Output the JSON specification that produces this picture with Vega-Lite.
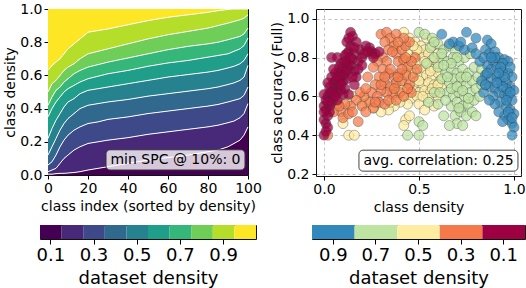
{
"$schema":"https://vega.github.io/schema/vega-lite/v6.json",
"padding":{"left":3,"top":1,"right":0,"bottom":0},
"background":"white",
"config":{"font":"DejaVu Sans","view":{"stroke":"#111","strokeWidth":1},
"axis":{"labelFont":"DejaVu Sans","titleFont":"DejaVu Sans","labelFontSize":14,"titleFontSize":14,"titleFontWeight":"normal","labelColor":"#000","titleColor":"#000","tickColor":"#000","domain":false,"tickSize":4,"labelPadding":2,"titlePadding":4,"grid":false,"labelOverlap":false,"labelFlush":false},
"text":{"font":"DejaVu Sans"}},
"resolve":{"scale":{"color":"independent"}},
"spacing":8,
"datasets":{
"bands":[
{"i":0,"d":0.1,"lo":0,"hi":0.005},{"i":0,"d":0.2,"lo":0.005,"hi":0.02},{"i":0,"d":0.3,"lo":0.02,"hi":0.06},{"i":0,"d":0.4,"lo":0.06,"hi":0.12},{"i":0,"d":0.5,"lo":0.12,"hi":0.22},{"i":0,"d":0.6,"lo":0.22,"hi":0.35},{"i":0,"d":0.7,"lo":0.35,"hi":0.42},{"i":0,"d":0.8,"lo":0.42,"hi":0.5},{"i":0,"d":0.9,"lo":0.5,"hi":0.63},{"i":0,"d":1,"lo":0.63,"hi":1},
{"i":2,"d":0.1,"lo":0,"hi":0.005},{"i":2,"d":0.2,"lo":0.005,"hi":0.03},{"i":2,"d":0.3,"lo":0.03,"hi":0.08},{"i":2,"d":0.4,"lo":0.08,"hi":0.17},{"i":2,"d":0.5,"lo":0.17,"hi":0.28},{"i":2,"d":0.6,"lo":0.28,"hi":0.4},{"i":2,"d":0.7,"lo":0.4,"hi":0.47},{"i":2,"d":0.8,"lo":0.47,"hi":0.55},{"i":2,"d":0.9,"lo":0.55,"hi":0.66},{"i":2,"d":1,"lo":0.66,"hi":1},
{"i":4,"d":0.1,"lo":0,"hi":0.008},{"i":4,"d":0.2,"lo":0.008,"hi":0.04},{"i":4,"d":0.3,"lo":0.04,"hi":0.12},{"i":4,"d":0.4,"lo":0.12,"hi":0.22},{"i":4,"d":0.5,"lo":0.22,"hi":0.33},{"i":4,"d":0.6,"lo":0.33,"hi":0.44},{"i":4,"d":0.7,"lo":0.44,"hi":0.51},{"i":4,"d":0.8,"lo":0.51,"hi":0.57},{"i":4,"d":0.9,"lo":0.57,"hi":0.68},{"i":4,"d":1,"lo":0.68,"hi":1},
{"i":6,"d":0.1,"lo":0,"hi":0.01},{"i":6,"d":0.2,"lo":0.01,"hi":0.07},{"i":6,"d":0.3,"lo":0.07,"hi":0.17},{"i":6,"d":0.4,"lo":0.17,"hi":0.27},{"i":6,"d":0.5,"lo":0.27,"hi":0.37},{"i":6,"d":0.6,"lo":0.37,"hi":0.47},{"i":6,"d":0.7,"lo":0.47,"hi":0.53},{"i":6,"d":0.8,"lo":0.53,"hi":0.6},{"i":6,"d":0.9,"lo":0.6,"hi":0.7},{"i":6,"d":1,"lo":0.7,"hi":1},
{"i":8,"d":0.1,"lo":0,"hi":0.01},{"i":8,"d":0.2,"lo":0.01,"hi":0.1},{"i":8,"d":0.3,"lo":0.1,"hi":0.21},{"i":8,"d":0.4,"lo":0.21,"hi":0.31},{"i":8,"d":0.5,"lo":0.31,"hi":0.41},{"i":8,"d":0.6,"lo":0.41,"hi":0.5},{"i":8,"d":0.7,"lo":0.5,"hi":0.56},{"i":8,"d":0.8,"lo":0.56,"hi":0.63},{"i":8,"d":0.9,"lo":0.63,"hi":0.73},{"i":8,"d":1,"lo":0.73,"hi":1},
{"i":10,"d":0.1,"lo":0,"hi":0.012},{"i":10,"d":0.2,"lo":0.012,"hi":0.12},{"i":10,"d":0.3,"lo":0.12,"hi":0.24},{"i":10,"d":0.4,"lo":0.24,"hi":0.34},{"i":10,"d":0.5,"lo":0.34,"hi":0.44},{"i":10,"d":0.6,"lo":0.44,"hi":0.52},{"i":10,"d":0.7,"lo":0.52,"hi":0.58},{"i":10,"d":0.8,"lo":0.58,"hi":0.65},{"i":10,"d":0.9,"lo":0.65,"hi":0.76},{"i":10,"d":1,"lo":0.76,"hi":1},
{"i":13,"d":0.1,"lo":0,"hi":0.015},{"i":13,"d":0.2,"lo":0.015,"hi":0.15},{"i":13,"d":0.3,"lo":0.15,"hi":0.27},{"i":13,"d":0.4,"lo":0.27,"hi":0.37},{"i":13,"d":0.5,"lo":0.37,"hi":0.46},{"i":13,"d":0.6,"lo":0.46,"hi":0.54},{"i":13,"d":0.7,"lo":0.54,"hi":0.61},{"i":13,"d":0.8,"lo":0.61,"hi":0.67},{"i":13,"d":0.9,"lo":0.67,"hi":0.79},{"i":13,"d":1,"lo":0.79,"hi":1},
{"i":16,"d":0.1,"lo":0,"hi":0.02},{"i":16,"d":0.2,"lo":0.02,"hi":0.17},{"i":16,"d":0.3,"lo":0.17,"hi":0.29},{"i":16,"d":0.4,"lo":0.29,"hi":0.4},{"i":16,"d":0.5,"lo":0.4,"hi":0.49},{"i":16,"d":0.6,"lo":0.49,"hi":0.56},{"i":16,"d":0.7,"lo":0.56,"hi":0.63},{"i":16,"d":0.8,"lo":0.63,"hi":0.7},{"i":16,"d":0.9,"lo":0.7,"hi":0.82},{"i":16,"d":1,"lo":0.82,"hi":1},
{"i":20,"d":0.1,"lo":0,"hi":0.03},{"i":20,"d":0.2,"lo":0.03,"hi":0.19},{"i":20,"d":0.3,"lo":0.19,"hi":0.31},{"i":20,"d":0.4,"lo":0.31,"hi":0.42},{"i":20,"d":0.5,"lo":0.42,"hi":0.51},{"i":20,"d":0.6,"lo":0.51,"hi":0.58},{"i":20,"d":0.7,"lo":0.58,"hi":0.65},{"i":20,"d":0.8,"lo":0.65,"hi":0.73},{"i":20,"d":0.9,"lo":0.73,"hi":0.86},{"i":20,"d":1,"lo":0.86,"hi":1},
{"i":25,"d":0.1,"lo":0,"hi":0.04},{"i":25,"d":0.2,"lo":0.04,"hi":0.2},{"i":25,"d":0.3,"lo":0.2,"hi":0.32},{"i":25,"d":0.4,"lo":0.32,"hi":0.43},{"i":25,"d":0.5,"lo":0.43,"hi":0.52},{"i":25,"d":0.6,"lo":0.52,"hi":0.595},{"i":25,"d":0.7,"lo":0.595,"hi":0.665},{"i":25,"d":0.8,"lo":0.665,"hi":0.745},{"i":25,"d":0.9,"lo":0.745,"hi":0.87},{"i":25,"d":1,"lo":0.87,"hi":1},
{"i":30,"d":0.1,"lo":0,"hi":0.05},{"i":30,"d":0.2,"lo":0.05,"hi":0.21},{"i":30,"d":0.3,"lo":0.21,"hi":0.335},{"i":30,"d":0.4,"lo":0.335,"hi":0.44},{"i":30,"d":0.5,"lo":0.44,"hi":0.53},{"i":30,"d":0.6,"lo":0.53,"hi":0.61},{"i":30,"d":0.7,"lo":0.61,"hi":0.68},{"i":30,"d":0.8,"lo":0.68,"hi":0.76},{"i":30,"d":0.9,"lo":0.76,"hi":0.88},{"i":30,"d":1,"lo":0.88,"hi":1},
{"i":40,"d":0.1,"lo":0,"hi":0.07},{"i":40,"d":0.2,"lo":0.07,"hi":0.225},{"i":40,"d":0.3,"lo":0.225,"hi":0.35},{"i":40,"d":0.4,"lo":0.35,"hi":0.455},{"i":40,"d":0.5,"lo":0.455,"hi":0.55},{"i":40,"d":0.6,"lo":0.55,"hi":0.63},{"i":40,"d":0.7,"lo":0.63,"hi":0.705},{"i":40,"d":0.8,"lo":0.705,"hi":0.79},{"i":40,"d":0.9,"lo":0.79,"hi":0.905},{"i":40,"d":1,"lo":0.905,"hi":1},
{"i":50,"d":0.1,"lo":0,"hi":0.09},{"i":50,"d":0.2,"lo":0.09,"hi":0.245},{"i":50,"d":0.3,"lo":0.245,"hi":0.37},{"i":50,"d":0.4,"lo":0.37,"hi":0.475},{"i":50,"d":0.5,"lo":0.475,"hi":0.57},{"i":50,"d":0.6,"lo":0.57,"hi":0.655},{"i":50,"d":0.7,"lo":0.655,"hi":0.73},{"i":50,"d":0.8,"lo":0.73,"hi":0.82},{"i":50,"d":0.9,"lo":0.82,"hi":0.93},{"i":50,"d":1,"lo":0.93,"hi":1},
{"i":60,"d":0.1,"lo":0,"hi":0.105},{"i":60,"d":0.2,"lo":0.105,"hi":0.26},{"i":60,"d":0.3,"lo":0.26,"hi":0.385},{"i":60,"d":0.4,"lo":0.385,"hi":0.49},{"i":60,"d":0.5,"lo":0.49,"hi":0.59},{"i":60,"d":0.6,"lo":0.59,"hi":0.675},{"i":60,"d":0.7,"lo":0.675,"hi":0.755},{"i":60,"d":0.8,"lo":0.755,"hi":0.845},{"i":60,"d":0.9,"lo":0.845,"hi":0.95},{"i":60,"d":1,"lo":0.95,"hi":1},
{"i":70,"d":0.1,"lo":0,"hi":0.12},{"i":70,"d":0.2,"lo":0.12,"hi":0.275},{"i":70,"d":0.3,"lo":0.275,"hi":0.4},{"i":70,"d":0.4,"lo":0.4,"hi":0.505},{"i":70,"d":0.5,"lo":0.505,"hi":0.605},{"i":70,"d":0.6,"lo":0.605,"hi":0.69},{"i":70,"d":0.7,"lo":0.69,"hi":0.775},{"i":70,"d":0.8,"lo":0.775,"hi":0.865},{"i":70,"d":0.9,"lo":0.865,"hi":0.965},{"i":70,"d":1,"lo":0.965,"hi":1},
{"i":80,"d":0.1,"lo":0,"hi":0.14},{"i":80,"d":0.2,"lo":0.14,"hi":0.29},{"i":80,"d":0.3,"lo":0.29,"hi":0.415},{"i":80,"d":0.4,"lo":0.415,"hi":0.52},{"i":80,"d":0.5,"lo":0.52,"hi":0.62},{"i":80,"d":0.6,"lo":0.62,"hi":0.71},{"i":80,"d":0.7,"lo":0.71,"hi":0.79},{"i":80,"d":0.8,"lo":0.79,"hi":0.885},{"i":80,"d":0.9,"lo":0.885,"hi":0.98},{"i":80,"d":1,"lo":0.98,"hi":1},
{"i":85,"d":0.1,"lo":0,"hi":0.15},{"i":85,"d":0.2,"lo":0.15,"hi":0.3},{"i":85,"d":0.3,"lo":0.3,"hi":0.425},{"i":85,"d":0.4,"lo":0.425,"hi":0.53},{"i":85,"d":0.5,"lo":0.53,"hi":0.63},{"i":85,"d":0.6,"lo":0.63,"hi":0.72},{"i":85,"d":0.7,"lo":0.72,"hi":0.8},{"i":85,"d":0.8,"lo":0.8,"hi":0.9},{"i":85,"d":0.9,"lo":0.9,"hi":0.99},{"i":85,"d":1,"lo":0.99,"hi":1},
{"i":90,"d":0.1,"lo":0,"hi":0.17},{"i":90,"d":0.2,"lo":0.17,"hi":0.315},{"i":90,"d":0.3,"lo":0.315,"hi":0.44},{"i":90,"d":0.4,"lo":0.44,"hi":0.545},{"i":90,"d":0.5,"lo":0.545,"hi":0.645},{"i":90,"d":0.6,"lo":0.645,"hi":0.73},{"i":90,"d":0.7,"lo":0.73,"hi":0.815},{"i":90,"d":0.8,"lo":0.815,"hi":0.915},{"i":90,"d":0.9,"lo":0.915,"hi":0.997},{"i":90,"d":1,"lo":0.997,"hi":1},
{"i":93,"d":0.1,"lo":0,"hi":0.19},{"i":93,"d":0.2,"lo":0.19,"hi":0.325},{"i":93,"d":0.3,"lo":0.325,"hi":0.45},{"i":93,"d":0.4,"lo":0.45,"hi":0.555},{"i":93,"d":0.5,"lo":0.555,"hi":0.655},{"i":93,"d":0.6,"lo":0.655,"hi":0.745},{"i":93,"d":0.7,"lo":0.745,"hi":0.825},{"i":93,"d":0.8,"lo":0.825,"hi":0.925},{"i":93,"d":0.9,"lo":0.925,"hi":1},{"i":93,"d":1,"lo":1,"hi":1},
{"i":96,"d":0.1,"lo":0,"hi":0.21},{"i":96,"d":0.2,"lo":0.21,"hi":0.345},{"i":96,"d":0.3,"lo":0.345,"hi":0.46},{"i":96,"d":0.4,"lo":0.46,"hi":0.57},{"i":96,"d":0.5,"lo":0.57,"hi":0.67},{"i":96,"d":0.6,"lo":0.67,"hi":0.76},{"i":96,"d":0.7,"lo":0.76,"hi":0.835},{"i":96,"d":0.8,"lo":0.835,"hi":0.935},{"i":96,"d":0.9,"lo":0.935,"hi":1},{"i":96,"d":1,"lo":1,"hi":1},
{"i":98,"d":0.1,"lo":0,"hi":0.24},{"i":98,"d":0.2,"lo":0.24,"hi":0.37},{"i":98,"d":0.3,"lo":0.37,"hi":0.48},{"i":98,"d":0.4,"lo":0.48,"hi":0.59},{"i":98,"d":0.5,"lo":0.59,"hi":0.69},{"i":98,"d":0.6,"lo":0.69,"hi":0.78},{"i":98,"d":0.7,"lo":0.78,"hi":0.85},{"i":98,"d":0.8,"lo":0.85,"hi":0.945},{"i":98,"d":0.9,"lo":0.945,"hi":1},{"i":98,"d":1,"lo":1,"hi":1},
{"i":100,"d":0.1,"lo":0,"hi":0.29},{"i":100,"d":0.2,"lo":0.29,"hi":0.43},{"i":100,"d":0.3,"lo":0.43,"hi":0.53},{"i":100,"d":0.4,"lo":0.53,"hi":0.66},{"i":100,"d":0.5,"lo":0.66,"hi":0.73},{"i":100,"d":0.6,"lo":0.73,"hi":0.825},{"i":100,"d":0.7,"lo":0.825,"hi":0.885},{"i":100,"d":0.8,"lo":0.885,"hi":0.965},{"i":100,"d":0.9,"lo":0.965,"hi":1},{"i":100,"d":1,"lo":1,"hi":1}
],
"pts":[
{"cd":0.42,"acc":0.93,"ds":0.5},{"cd":0.45,"acc":0.9,"ds":0.5},{"cd":0.48,"acc":0.88,"ds":0.5},{"cd":0.51,"acc":0.86,"ds":0.5},{"cd":0.5,"acc":0.83,"ds":0.5},{"cd":0.53,"acc":0.84,"ds":0.5},{"cd":0.47,"acc":0.8,"ds":0.5},{"cd":0.44,"acc":0.82,"ds":0.5},{"cd":0.52,"acc":0.8,"ds":0.5},{"cd":0.55,"acc":0.82,"ds":0.5},{"cd":0.57,"acc":0.79,"ds":0.5},{"cd":0.49,"acc":0.77,"ds":0.5},{"cd":0.46,"acc":0.75,"ds":0.5},{"cd":0.52,"acc":0.74,"ds":0.5},{"cd":0.55,"acc":0.76,"ds":0.5},{"cd":0.58,"acc":0.74,"ds":0.5},{"cd":0.6,"acc":0.77,"ds":0.5},{"cd":0.48,"acc":0.72,"ds":0.5},{"cd":0.51,"acc":0.7,"ds":0.5},{"cd":0.54,"acc":0.71,"ds":0.5},{"cd":0.57,"acc":0.7,"ds":0.5},{"cd":0.6,"acc":0.72,"ds":0.5},{"cd":0.45,"acc":0.69,"ds":0.5},{"cd":0.48,"acc":0.67,"ds":0.5},{"cd":0.52,"acc":0.66,"ds":0.5},{"cd":0.55,"acc":0.67,"ds":0.5},{"cd":0.58,"acc":0.66,"ds":0.5},{"cd":0.61,"acc":0.68,"ds":0.5},{"cd":0.44,"acc":0.64,"ds":0.5},{"cd":0.47,"acc":0.63,"ds":0.5},{"cd":0.5,"acc":0.62,"ds":0.5},{"cd":0.53,"acc":0.63,"ds":0.5},{"cd":0.56,"acc":0.62,"ds":0.5},{"cd":0.59,"acc":0.63,"ds":0.5},{"cd":0.42,"acc":0.6,"ds":0.5},{"cd":0.46,"acc":0.59,"ds":0.5},{"cd":0.49,"acc":0.6,"ds":0.5},{"cd":0.55,"acc":0.59,"ds":0.5},{"cd":0.5,"acc":0.56,"ds":0.5},{"cd":0.53,"acc":0.53,"ds":0.5},{"cd":0.44,"acc":0.56,"ds":0.5},{"cd":0.4,"acc":0.57,"ds":0.5},{"cd":0.37,"acc":0.55,"ds":0.5},{"cd":0.34,"acc":0.53,"ds":0.5},{"cd":0.3,"acc":0.52,"ds":0.5},{"cd":0.26,"acc":0.54,"ds":0.5},{"cd":0.22,"acc":0.58,"ds":0.5},{"cd":0.2,"acc":0.56,"ds":0.5},{"cd":0.15,"acc":0.6,"ds":0.5},{"cd":0.12,"acc":0.57,"ds":0.5},{"cd":0.1,"acc":0.46,"ds":0.5},{"cd":0.13,"acc":0.4,"ds":0.5},{"cd":0.16,"acc":0.4,"ds":0.5},{"cd":0.43,"acc":0.48,"ds":0.5},{"cd":0.42,"acc":0.45,"ds":0.5},{"cd":0.45,"acc":0.5,"ds":0.5},{"cd":0.6,"acc":0.6,"ds":0.5},{"cd":0.62,"acc":0.65,"ds":0.5},{"cd":0.58,"acc":0.55,"ds":0.5},{"cd":0.4,"acc":0.66,"ds":0.5},{"cd":0.38,"acc":0.62,"ds":0.5},{"cd":0.36,"acc":0.88,"ds":0.5},{"cd":0.39,"acc":0.86,"ds":0.5},{"cd":0.42,"acc":0.78,"ds":0.5},{"cd":0.57,"acc":0.86,"ds":0.5},{"cd":0.54,"acc":0.9,"ds":0.5},{"cd":0.6,"acc":0.82,"ds":0.5},
{"cd":0.49,"acc":0.84,"ds":0.5},{"cd":0.53,"acc":0.78,"ds":0.5},{"cd":0.56,"acc":0.73,"ds":0.5},{"cd":0.5,"acc":0.68,"ds":0.5},{"cd":0.46,"acc":0.72,"ds":0.5},{"cd":0.57,"acc":0.64,"ds":0.5},{"cd":0.52,"acc":0.6,"ds":0.5},{"cd":0.47,"acc":0.86,"ds":0.5},{"cd":0.43,"acc":0.72,"ds":0.5},{"cd":0.41,"acc":0.63,"ds":0.5},{"cd":0.35,"acc":0.57,"ds":0.5},{"cd":0.6,"acc":0.66,"ds":0.5},
{"cd":0.5,"acc":0.93,"ds":0.7},{"cd":0.53,"acc":0.92,"ds":0.7},{"cd":0.57,"acc":0.9,"ds":0.7},{"cd":0.6,"acc":0.87,"ds":0.7},{"cd":0.56,"acc":0.85,"ds":0.7},{"cd":0.63,"acc":0.84,"ds":0.7},{"cd":0.66,"acc":0.86,"ds":0.7},{"cd":0.69,"acc":0.83,"ds":0.7},{"cd":0.62,"acc":0.8,"ds":0.7},{"cd":0.65,"acc":0.78,"ds":0.7},{"cd":0.68,"acc":0.8,"ds":0.7},{"cd":0.71,"acc":0.78,"ds":0.7},{"cd":0.74,"acc":0.8,"ds":0.7},{"cd":0.77,"acc":0.82,"ds":0.7},{"cd":0.6,"acc":0.75,"ds":0.7},{"cd":0.64,"acc":0.72,"ds":0.7},{"cd":0.67,"acc":0.74,"ds":0.7},{"cd":0.7,"acc":0.72,"ds":0.7},{"cd":0.73,"acc":0.74,"ds":0.7},{"cd":0.76,"acc":0.72,"ds":0.7},{"cd":0.79,"acc":0.75,"ds":0.7},{"cd":0.62,"acc":0.69,"ds":0.7},{"cd":0.66,"acc":0.67,"ds":0.7},{"cd":0.69,"acc":0.69,"ds":0.7},{"cd":0.72,"acc":0.67,"ds":0.7},{"cd":0.75,"acc":0.66,"ds":0.7},{"cd":0.78,"acc":0.68,"ds":0.7},{"cd":0.81,"acc":0.7,"ds":0.7},{"cd":0.65,"acc":0.62,"ds":0.7},{"cd":0.68,"acc":0.6,"ds":0.7},{"cd":0.71,"acc":0.62,"ds":0.7},{"cd":0.74,"acc":0.6,"ds":0.7},{"cd":0.77,"acc":0.62,"ds":0.7},{"cd":0.8,"acc":0.64,"ds":0.7},{"cd":0.83,"acc":0.66,"ds":0.7},{"cd":0.67,"acc":0.55,"ds":0.7},{"cd":0.7,"acc":0.57,"ds":0.7},{"cd":0.73,"acc":0.55,"ds":0.7},{"cd":0.76,"acc":0.56,"ds":0.7},{"cd":0.79,"acc":0.58,"ds":0.7},{"cd":0.82,"acc":0.6,"ds":0.7},{"cd":0.69,"acc":0.5,"ds":0.7},{"cd":0.72,"acc":0.52,"ds":0.7},{"cd":0.75,"acc":0.5,"ds":0.7},{"cd":0.78,"acc":0.52,"ds":0.7},{"cd":0.7,"acc":0.46,"ds":0.7},{"cd":0.73,"acc":0.45,"ds":0.7},{"cd":0.63,"acc":0.5,"ds":0.7},{"cd":0.6,"acc":0.56,"ds":0.7},{"cd":0.58,"acc":0.62,"ds":0.7},{"cd":0.55,"acc":0.57,"ds":0.7},{"cd":0.5,"acc":0.47,"ds":0.7},{"cd":0.52,"acc":0.45,"ds":0.7},{"cd":0.44,"acc":0.4,"ds":0.7},{"cd":0.5,"acc":0.4,"ds":0.7},{"cd":0.85,"acc":0.66,"ds":0.7},{"cd":0.83,"acc":0.74,"ds":0.7},{"cd":0.58,"acc":0.8,"ds":0.7},{"cd":0.54,"acc":0.77,"ds":0.7},{"cd":0.61,"acc":0.62,"ds":0.7},{"cd":0.64,"acc":0.58,"ds":0.7},{"cd":0.8,"acc":0.5,"ds":0.7},{"cd":0.66,"acc":0.45,"ds":0.7},
{"cd":0.7,"acc":0.8,"ds":0.7},{"cd":0.67,"acc":0.77,"ds":0.7},{"cd":0.63,"acc":0.76,"ds":0.7},{"cd":0.72,"acc":0.7,"ds":0.7},{"cd":0.75,"acc":0.7,"ds":0.7},{"cd":0.67,"acc":0.64,"ds":0.7},{"cd":0.7,"acc":0.65,"ds":0.7},{"cd":0.73,"acc":0.63,"ds":0.7},{"cd":0.65,"acc":0.7,"ds":0.7},{"cd":0.76,"acc":0.59,"ds":0.7},{"cd":0.71,"acc":0.54,"ds":0.7},{"cd":0.62,"acc":0.82,"ds":0.7},{"cd":0.58,"acc":0.88,"ds":0.7},
{"cd":0.62,"acc":0.92,"ds":0.9},{"cd":0.75,"acc":0.93,"ds":0.9},{"cd":0.8,"acc":0.9,"ds":0.9},{"cd":0.86,"acc":0.89,"ds":0.9},{"cd":0.88,"acc":0.87,"ds":0.9},{"cd":0.71,"acc":0.86,"ds":0.9},{"cd":0.74,"acc":0.84,"ds":0.9},{"cd":0.68,"acc":0.88,"ds":0.9},{"cd":0.78,"acc":0.85,"ds":0.9},{"cd":0.66,"acc":0.87,"ds":0.9},{"cd":0.72,"acc":0.88,"ds":0.9},{"cd":0.85,"acc":0.84,"ds":0.9},{"cd":0.87,"acc":0.82,"ds":0.9},{"cd":0.9,"acc":0.83,"ds":0.9},{"cd":0.92,"acc":0.8,"ds":0.9},{"cd":0.95,"acc":0.79,"ds":0.9},{"cd":0.97,"acc":0.78,"ds":0.9},{"cd":0.89,"acc":0.78,"ds":0.9},{"cd":0.86,"acc":0.76,"ds":0.9},{"cd":0.88,"acc":0.74,"ds":0.9},{"cd":0.91,"acc":0.75,"ds":0.9},{"cd":0.94,"acc":0.73,"ds":0.9},{"cd":0.97,"acc":0.72,"ds":0.9},{"cd":0.99,"acc":0.7,"ds":0.9},{"cd":0.85,"acc":0.71,"ds":0.9},{"cd":0.88,"acc":0.69,"ds":0.9},{"cd":0.91,"acc":0.7,"ds":0.9},{"cd":0.93,"acc":0.68,"ds":0.9},{"cd":0.96,"acc":0.67,"ds":0.9},{"cd":0.98,"acc":0.65,"ds":0.9},{"cd":1.0,"acc":0.63,"ds":0.9},{"cd":0.87,"acc":0.65,"ds":0.9},{"cd":0.9,"acc":0.64,"ds":0.9},{"cd":0.92,"acc":0.62,"ds":0.9},{"cd":0.95,"acc":0.61,"ds":0.9},{"cd":0.97,"acc":0.6,"ds":0.9},{"cd":0.99,"acc":0.58,"ds":0.9},{"cd":0.84,"acc":0.62,"ds":0.9},{"cd":0.89,"acc":0.6,"ds":0.9},{"cd":0.93,"acc":0.57,"ds":0.9},{"cd":0.96,"acc":0.55,"ds":0.9},{"cd":0.98,"acc":0.53,"ds":0.9},{"cd":1.0,"acc":0.51,"ds":0.9},{"cd":0.95,"acc":0.5,"ds":0.9},{"cd":0.97,"acc":0.48,"ds":0.9},{"cd":0.99,"acc":0.46,"ds":0.9},{"cd":0.94,"acc":0.47,"ds":0.9},{"cd":1.0,"acc":0.44,"ds":0.9},{"cd":0.99,"acc":0.4,"ds":0.9},{"cd":0.82,"acc":0.78,"ds":0.9},{"cd":0.84,"acc":0.8,"ds":0.9},{"cd":0.8,"acc":0.82,"ds":0.9},{"cd":0.83,"acc":0.68,"ds":0.9},{"cd":0.9,"acc":0.56,"ds":0.9},{"cd":0.92,"acc":0.52,"ds":0.9},{"cd":0.96,"acc":0.64,"ds":0.9},{"cd":0.94,"acc":0.77,"ds":0.9},{"cd":0.98,"acc":0.75,"ds":0.9},{"cd":0.87,"acc":0.58,"ds":0.9},{"cd":0.85,"acc":0.66,"ds":0.9},
{"cd":0.9,"acc":0.8,"ds":0.9},{"cd":0.93,"acc":0.75,"ds":0.9},{"cd":0.95,"acc":0.7,"ds":0.9},{"cd":0.92,"acc":0.72,"ds":0.9},{"cd":0.94,"acc":0.65,"ds":0.9},{"cd":0.98,"acc":0.62,"ds":0.9},{"cd":0.96,"acc":0.58,"ds":0.9},{"cd":0.91,"acc":0.67,"ds":0.9},{"cd":0.97,"acc":0.52,"ds":0.9},{"cd":0.99,"acc":0.49,"ds":0.9},{"cd":0.88,"acc":0.8,"ds":0.9},{"cd":0.86,"acc":0.72,"ds":0.9},
{"cd":0.3,"acc":0.92,"ds":0.3},{"cd":0.33,"acc":0.93,"ds":0.3},{"cd":0.35,"acc":0.9,"ds":0.3},{"cd":0.32,"acc":0.88,"ds":0.3},{"cd":0.37,"acc":0.86,"ds":0.3},{"cd":0.34,"acc":0.84,"ds":0.3},{"cd":0.38,"acc":0.82,"ds":0.3},{"cd":0.41,"acc":0.84,"ds":0.3},{"cd":0.43,"acc":0.86,"ds":0.3},{"cd":0.45,"acc":0.88,"ds":0.3},{"cd":0.31,"acc":0.8,"ds":0.3},{"cd":0.33,"acc":0.78,"ds":0.3},{"cd":0.39,"acc":0.78,"ds":0.3},{"cd":0.42,"acc":0.79,"ds":0.3},{"cd":0.44,"acc":0.75,"ds":0.3},{"cd":0.4,"acc":0.72,"ds":0.3},{"cd":0.37,"acc":0.7,"ds":0.3},{"cd":0.34,"acc":0.72,"ds":0.3},{"cd":0.31,"acc":0.74,"ds":0.3},{"cd":0.29,"acc":0.7,"ds":0.3},{"cd":0.32,"acc":0.67,"ds":0.3},{"cd":0.35,"acc":0.65,"ds":0.3},{"cd":0.38,"acc":0.67,"ds":0.3},{"cd":0.41,"acc":0.68,"ds":0.3},{"cd":0.43,"acc":0.71,"ds":0.3},{"cd":0.45,"acc":0.66,"ds":0.3},{"cd":0.46,"acc":0.62,"ds":0.3},{"cd":0.4,"acc":0.62,"ds":0.3},{"cd":0.36,"acc":0.61,"ds":0.3},{"cd":0.33,"acc":0.62,"ds":0.3},{"cd":0.3,"acc":0.63,"ds":0.3},{"cd":0.27,"acc":0.66,"ds":0.3},{"cd":0.25,"acc":0.62,"ds":0.3},{"cd":0.28,"acc":0.6,"ds":0.3},{"cd":0.24,"acc":0.57,"ds":0.3},{"cd":0.21,"acc":0.6,"ds":0.3},{"cd":0.19,"acc":0.62,"ds":0.3},{"cd":0.22,"acc":0.64,"ds":0.3},{"cd":0.17,"acc":0.58,"ds":0.3},{"cd":0.14,"acc":0.55,"ds":0.3},{"cd":0.11,"acc":0.56,"ds":0.3},{"cd":0.09,"acc":0.52,"ds":0.3},{"cd":0.1,"acc":0.49,"ds":0.3},{"cd":0.13,"acc":0.51,"ds":0.3},{"cd":0.18,"acc":0.47,"ds":0.3},{"cd":0.2,"acc":0.55,"ds":0.3},{"cd":0.26,"acc":0.54,"ds":0.3},{"cd":0.29,"acc":0.57,"ds":0.3},{"cd":0.32,"acc":0.56,"ds":0.3},{"cd":0.34,"acc":0.58,"ds":0.3},{"cd":0.38,"acc":0.58,"ds":0.3},{"cd":0.42,"acc":0.6,"ds":0.3},{"cd":0.47,"acc":0.7,"ds":0.3},{"cd":0.48,"acc":0.8,"ds":0.3},{"cd":0.46,"acc":0.78,"ds":0.3},{"cd":0.28,"acc":0.78,"ds":0.3},{"cd":0.26,"acc":0.75,"ds":0.3},{"cd":0.23,"acc":0.7,"ds":0.3},{"cd":0.25,"acc":0.82,"ds":0.3},{"cd":0.38,"acc":0.92,"ds":0.3},{"cd":0.42,"acc":0.9,"ds":0.3},{"cd":0.49,"acc":0.74,"ds":0.3},{"cd":0.02,"acc":0.4,"ds":0.3},{"cd":0.07,"acc":0.56,"ds":0.3},{"cd":0.05,"acc":0.52,"ds":0.3},{"cd":0.35,"acc":0.74,"ds":0.3},{"cd":0.44,"acc":0.64,"ds":0.3},
{"cd":0.36,"acc":0.83,"ds":0.3},{"cd":0.39,"acc":0.7,"ds":0.3},{"cd":0.41,"acc":0.74,"ds":0.3},{"cd":0.37,"acc":0.64,"ds":0.3},{"cd":0.3,"acc":0.66,"ds":0.3},{"cd":0.32,"acc":0.7,"ds":0.3},{"cd":0.43,"acc":0.8,"ds":0.3},{"cd":0.39,"acc":0.88,"ds":0.3},{"cd":0.27,"acc":0.57,"ds":0.3},{"cd":0.22,"acc":0.52,"ds":0.3},{"cd":0.15,"acc":0.52,"ds":0.3},{"cd":0.08,"acc":0.55,"ds":0.3},
{"cd":0.0,"acc":0.4,"ds":0.1},{"cd":0.01,"acc":0.46,"ds":0.1},{"cd":0.0,"acc":0.48,"ds":0.1},{"cd":0.02,"acc":0.5,"ds":0.1},{"cd":0.01,"acc":0.53,"ds":0.1},{"cd":0.0,"acc":0.55,"ds":0.1},{"cd":0.03,"acc":0.55,"ds":0.1},{"cd":0.01,"acc":0.58,"ds":0.1},{"cd":0.02,"acc":0.6,"ds":0.1},{"cd":0.0,"acc":0.61,"ds":0.1},{"cd":0.03,"acc":0.62,"ds":0.1},{"cd":0.05,"acc":0.6,"ds":0.1},{"cd":0.04,"acc":0.57,"ds":0.1},{"cd":0.02,"acc":0.44,"ds":0.1},{"cd":0.03,"acc":0.52,"ds":0.1},{"cd":0.05,"acc":0.63,"ds":0.1},{"cd":0.06,"acc":0.65,"ds":0.1},{"cd":0.07,"acc":0.62,"ds":0.1},{"cd":0.08,"acc":0.66,"ds":0.1},{"cd":0.06,"acc":0.68,"ds":0.1},{"cd":0.09,"acc":0.7,"ds":0.1},{"cd":0.1,"acc":0.68,"ds":0.1},{"cd":0.11,"acc":0.72,"ds":0.1},{"cd":0.08,"acc":0.72,"ds":0.1},{"cd":0.12,"acc":0.69,"ds":0.1},{"cd":0.13,"acc":0.74,"ds":0.1},{"cd":0.1,"acc":0.75,"ds":0.1},{"cd":0.14,"acc":0.76,"ds":0.1},{"cd":0.12,"acc":0.78,"ds":0.1},{"cd":0.09,"acc":0.77,"ds":0.1},{"cd":0.15,"acc":0.79,"ds":0.1},{"cd":0.11,"acc":0.81,"ds":0.1},{"cd":0.13,"acc":0.83,"ds":0.1},{"cd":0.16,"acc":0.82,"ds":0.1},{"cd":0.14,"acc":0.86,"ds":0.1},{"cd":0.12,"acc":0.88,"ds":0.1},{"cd":0.14,"acc":0.93,"ds":0.1},{"cd":0.15,"acc":0.91,"ds":0.1},{"cd":0.04,"acc":0.8,"ds":0.1},{"cd":0.07,"acc":0.8,"ds":0.1},{"cd":0.05,"acc":0.67,"ds":0.1},{"cd":0.07,"acc":0.58,"ds":0.1},{"cd":0.09,"acc":0.63,"ds":0.1},{"cd":0.11,"acc":0.64,"ds":0.1},{"cd":0.16,"acc":0.73,"ds":0.1},{"cd":0.17,"acc":0.7,"ds":0.1},{"cd":0.18,"acc":0.78,"ds":0.1},{"cd":0.2,"acc":0.8,"ds":0.1},{"cd":0.19,"acc":0.84,"ds":0.1},{"cd":0.22,"acc":0.86,"ds":0.1},{"cd":0.24,"acc":0.85,"ds":0.1},{"cd":0.25,"acc":0.83,"ds":0.1},{"cd":0.27,"acc":0.82,"ds":0.1},{"cd":0.29,"acc":0.83,"ds":0.1},{"cd":0.21,"acc":0.82,"ds":0.1},{"cd":0.17,"acc":0.88,"ds":0.1},{"cd":0.16,"acc":0.66,"ds":0.1},{"cd":0.13,"acc":0.61,"ds":0.1},{"cd":0.03,"acc":0.65,"ds":0.1},{"cd":0.06,"acc":0.72,"ds":0.1},{"cd":0.08,"acc":0.75,"ds":0.1},{"cd":0.1,"acc":0.61,"ds":0.1},{"cd":0.15,"acc":0.7,"ds":0.1},{"cd":0.18,"acc":0.74,"ds":0.1},{"cd":0.2,"acc":0.76,"ds":0.1},{"cd":0.12,"acc":0.82,"ds":0.1},{"cd":0.04,"acc":0.7,"ds":0.1},{"cd":0.02,"acc":0.67,"ds":0.1},
{"cd":0.01,"acc":0.42,"ds":0.1},{"cd":0.0,"acc":0.52,"ds":0.1},{"cd":0.02,"acc":0.57,"ds":0.1},{"cd":0.04,"acc":0.62,"ds":0.1},{"cd":0.06,"acc":0.6,"ds":0.1},{"cd":0.08,"acc":0.68,"ds":0.1},{"cd":0.1,"acc":0.71,"ds":0.1},{"cd":0.12,"acc":0.74,"ds":0.1},{"cd":0.13,"acc":0.77,"ds":0.1},{"cd":0.11,"acc":0.78,"ds":0.1},{"cd":0.07,"acc":0.7,"ds":0.1},{"cd":0.05,"acc":0.74,"ds":0.1},{"cd":0.09,"acc":0.66,"ds":0.1},{"cd":0.14,"acc":0.8,"ds":0.1},{"cd":0.16,"acc":0.85,"ds":0.1},{"cd":0.13,"acc":0.9,"ds":0.1},{"cd":0.23,"acc":0.83,"ds":0.1},{"cd":0.26,"acc":0.8,"ds":0.1}
]},
"hconcat":[
{"vconcat":[
{"width":200,"height":166,
"layer":[
{"data":{"name":"bands"},"mark":{"type":"area"},
"encoding":{
"x":{"field":"i","type":"quantitative","scale":{"domain":[0,100],"nice":false},"axis":{"values":[0,20,40,60,80,100],"labelOverlap":false,"title":"class index (sorted by density)","titlePadding":4}},
"y":{"field":"hi","type":"quantitative","scale":{"domain":[0,1],"nice":false},"axis":{"values":[0,0.2,0.4,0.6,0.8,1],"labelOverlap":false,"format":".1f","title":"class density","titlePadding":2}},
"y2":{"field":"lo"},
"color":{"field":"d","type":"ordinal","scale":{"domain":[0.1,0.2,0.3,0.4,0.5,0.6,0.7,0.8,0.9,1],"range":["#440154","#482878","#3e4989","#31688e","#26828e","#1f9e89","#35b779","#6ece58","#b5de2b","#fde725"]},"legend":null}}},
{"data":{"name":"bands"},"transform":[{"filter":"datum.d < 1"}],"mark":{"type":"line","color":"white","strokeWidth":1},
"encoding":{"x":{"field":"i","type":"quantitative","axis":{"values":[0,20,40,60,80,100],"labelOverlap":false,"title":"class index (sorted by density)","titlePadding":4}},"y":{"field":"hi","type":"quantitative","axis":{"values":[0,0.2,0.4,0.6,0.8,1],"labelOverlap":false,"format":".1f","title":"class density","titlePadding":2}},"detail":{"field":"d","type":"nominal"}}},
{"data":{"values":[{}]},"mark":{"type":"rect","fill":"white","fillOpacity":0.78,"stroke":"#333","strokeWidth":1,"cornerRadius":4},
"encoding":{"x":{"datum":29,"type":"quantitative","axis":{"values":[0,20,40,60,80,100],"labelOverlap":false,"title":"class index (sorted by density)","titlePadding":4}},"x2":{"datum":98.5},"y":{"datum":0.152,"type":"quantitative","axis":{"values":[0,0.2,0.4,0.6,0.8,1],"labelOverlap":false,"format":".1f","title":"class density","titlePadding":2}},"y2":{"datum":0.03}}},
{"data":{"values":[{}]},"mark":{"type":"text","fontSize":14,"color":"#000","text":"min SPC @ 10%: 0"},
"encoding":{"x":{"datum":63.75,"type":"quantitative","axis":{"values":[0,20,40,60,80,100],"labelOverlap":false,"title":"class index (sorted by density)","titlePadding":4}},"y":{"datum":0.091,"type":"quantitative","axis":{"values":[0,0.2,0.4,0.6,0.8,1],"labelOverlap":false,"format":".1f","title":"class density","titlePadding":2}}}}
]},
{"width":216,"height":14,
"data":{"values":[{"d":0.1},{"d":0.2},{"d":0.3},{"d":0.4},{"d":0.5},{"d":0.6},{"d":0.7},{"d":0.8},{"d":0.9},{"d":1}]},
"mark":{"type":"rect"},
"encoding":{
"x":{"field":"d","type":"ordinal","scale":{"paddingInner":0,"paddingOuter":0},"axis":{"values":[0.1,0.3,0.5,0.7,0.9],"labelOverlap":false,"labelAngle":0,"labelFontSize":18,"titleFontSize":18,"title":"dataset density","tickSize":5,"labelPadding":2,"titlePadding":5}},
"color":{"field":"d","type":"ordinal","scale":{"domain":[0.1,0.2,0.3,0.4,0.5,0.6,0.7,0.8,0.9,1],"range":["#440154","#482878","#3e4989","#31688e","#26828e","#1f9e89","#35b779","#6ece58","#b5de2b","#fde725"]},"legend":null}}}
],"spacing":50,"center":true,"bounds":"flush"},
{"vconcat":[
{"width":205,"height":167,
"layer":[
{"data":{"name":"pts"},"mark":{"type":"circle","size":100,"opacity":0.72,"stroke":"#333","strokeWidth":0.5},
"encoding":{
"x":{"field":"cd","type":"quantitative","scale":{"domain":[-0.042,1.037],"nice":false,"zero":false},"axis":{"values":[0,0.5,1],"labelOverlap":false,"format":".1f","title":"class density","grid":true,"gridDash":[3,3],"gridColor":"#b0b0b0","gridWidth":0.8,"titlePadding":4}},
"y":{"field":"acc","type":"quantitative","scale":{"domain":[0.19,1.05],"nice":false,"zero":false},"axis":{"values":[0.2,0.4,0.6,0.8,1],"labelOverlap":false,"format":".1f","title":"class accuracy (Full)","grid":true,"gridDash":[3,3],"gridColor":"#b0b0b0","gridWidth":0.8,"labelPadding":3,"titlePadding":2}},
"color":{"field":"ds","type":"ordinal","scale":{"domain":[0.1,0.3,0.5,0.7,0.9],"range":["#9e0142","#f67a49","#feeca0","#bde4a0","#3288bd"]},"legend":null}}},
{"data":{"values":[{}]},"mark":{"type":"rect","fill":"white","fillOpacity":0.8,"stroke":"#444","strokeWidth":1,"cornerRadius":4},
"encoding":{"x":{"datum":0.184,"type":"quantitative"},"x2":{"datum":1.021},"y":{"datum":0.323,"type":"quantitative"},"y2":{"datum":0.215}}},
{"data":{"values":[{}]},"mark":{"type":"text","fontSize":14,"color":"#000","text":"avg. correlation: 0.25"},
"encoding":{"x":{"datum":0.603,"type":"quantitative"},"y":{"datum":0.269,"type":"quantitative"}}}
]},
{"width":213,"height":14,
"data":{"values":[{"ds":0.9},{"ds":0.7},{"ds":0.5},{"ds":0.3},{"ds":0.1}]},
"mark":{"type":"rect"},
"encoding":{
"x":{"field":"ds","type":"ordinal","scale":{"domain":[0.9,0.7,0.5,0.3,0.1],"paddingInner":0,"paddingOuter":0},"axis":{"labelOverlap":false,"labelAngle":0,"labelFontSize":18,"titleFontSize":18,"title":"dataset density","tickSize":5,"labelPadding":2,"titlePadding":5}},
"color":{"field":"ds","type":"ordinal","scale":{"domain":[0.1,0.3,0.5,0.7,0.9],"range":["#9e0142","#f67a49","#feeca0","#bde4a0","#3288bd"]},"legend":null}}}
],"spacing":49,"center":true,"bounds":"flush"}
]
}
